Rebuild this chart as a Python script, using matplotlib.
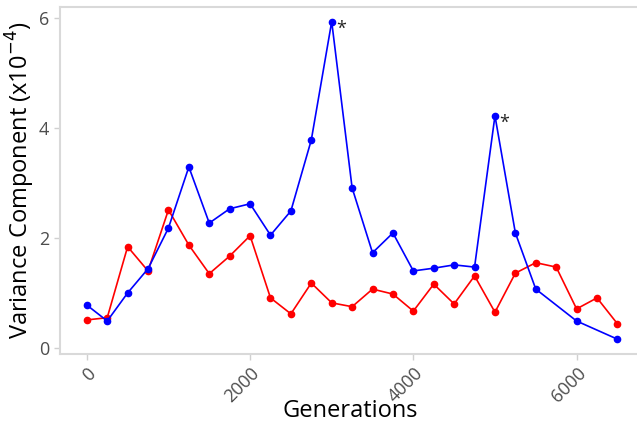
import matplotlib
matplotlib.use("Agg")
import matplotlib.pyplot as plt

plt.rcParams["font.family"] = ["Open Sans", "DejaVu Sans"]

# generations sampled every 250
gens_blue = [0, 250, 500, 750, 1000, 1250, 1500, 1750, 2000, 2250, 2500, 2750,
             3000, 3250, 3500, 3750, 4000, 4250, 4500, 4750, 5000, 5250, 5500,
             6000, 6500]
blue_vals = [0.78, 0.49, 1.0, 1.44, 2.18, 3.29, 2.27, 2.53, 2.62, 2.05, 2.49, 3.78,
             5.93, 2.91, 1.73, 2.09, 1.40, 1.45, 1.51, 1.47, 4.22, 2.09, 1.07,
             0.49, 0.16]

gens_red = [0, 250, 500, 750, 1000, 1250, 1500, 1750, 2000, 2250, 2500, 2750,
            3000, 3250, 3500, 3750, 4000, 4250, 4500, 4750, 5000, 5250, 5500,
            5750, 6000, 6250, 6500]
red_vals = [0.51, 0.55, 1.84, 1.40, 2.51, 1.87, 1.35, 1.67, 2.04, 0.91, 0.62, 1.18,
            0.82, 0.75, 1.07, 0.98, 0.67, 1.16, 0.80, 1.31, 0.65, 1.36, 1.55,
            1.47, 0.71, 0.91, 0.44]

# significant peaks
star_x = [3000, 5000]
star_y = [5.93, 4.22]

fig = plt.figure(figsize=(6.37, 4.25), dpi=100)
ax = fig.add_axes([0.094, 0.167, 0.906, 0.817])

ax.plot(gens_red, red_vals, color="#ff0000", lw=1.2, marker="o", ms=4.5)
ax.plot(gens_blue, blue_vals, color="#0000ff", lw=1.2, marker="o", ms=4.5)

for sx, sy in zip(star_x, star_y):
    ax.annotate("*", (sx, sy), xytext=(3, -5), textcoords="offset points",
                fontsize=13, color="#222222", va="center")

ax.set_xlim(-330, 6740)
ax.set_ylim(-0.11, 6.2)
ax.set_xticks([0, 2000, 4000, 6000])
ax.set_yticks([0, 2, 4, 6])

for side in ["left", "bottom", "top"]:
    ax.spines[side].set_color("#d9d9d9")
    ax.spines[side].set_linewidth(1.5)
ax.spines["right"].set_visible(False)

ax.tick_params(colors="#d0d0d0", length=4, width=1, labelcolor="#4d4d4d", labelsize=13)
plt.setp(ax.get_xticklabels(), rotation=45, ha="right", rotation_mode="anchor")

ax.set_xlabel("Generations", fontsize=17, color="black", va="center")
ax.xaxis.set_label_coords(0.504, -0.165)
ax.set_ylabel("Variance Component (x10$^{-4}$)", fontsize=17, color="black", va="center")
ax.yaxis.set_label_coords(-0.069, 0.5)

fig.savefig("out.png", dpi=100)
